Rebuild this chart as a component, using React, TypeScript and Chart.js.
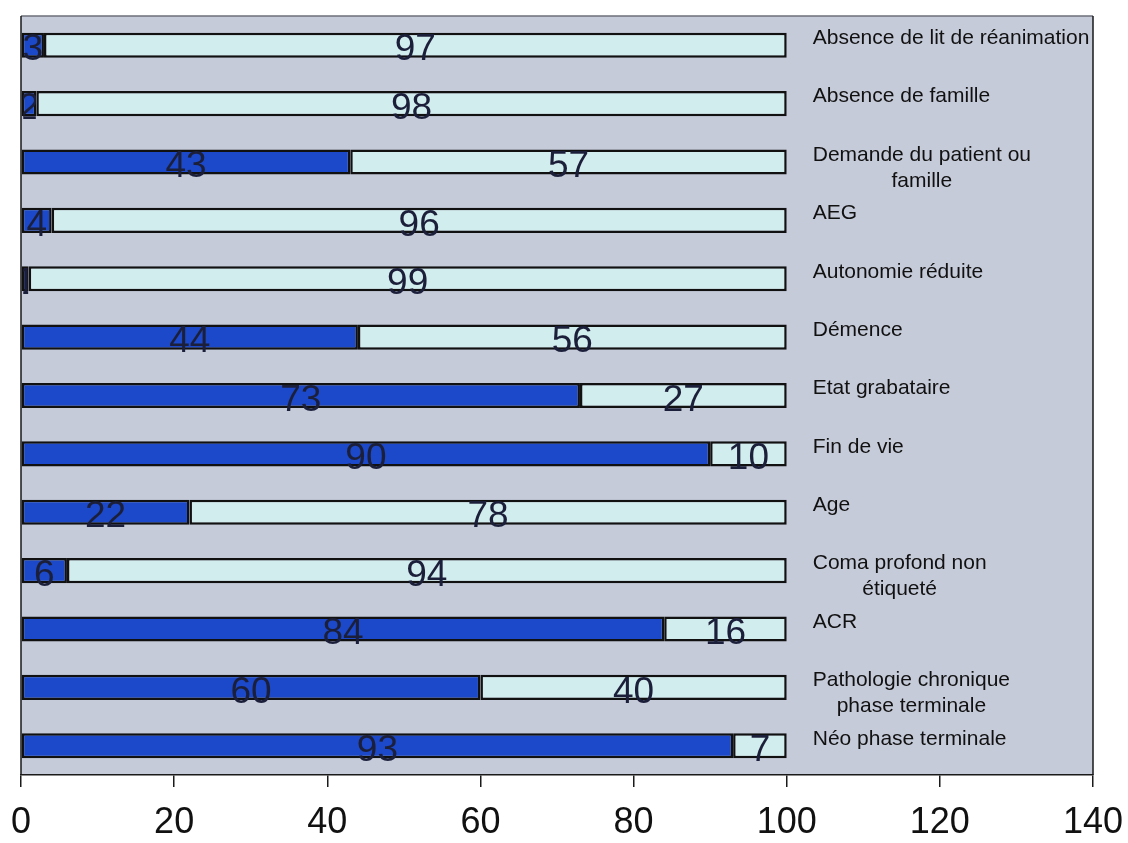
import React, { useEffect, useRef } from "react";
import { Chart, registerables } from "chart.js";

Chart.register(...registerables);

const categories: string[][] = [
  ["Absence de lit de réanimation"],
  ["Absence de famille"],
  ["Demande du patient ou", "famille"],
  ["AEG"],
  ["Autonomie réduite"],
  ["Démence"],
  ["Etat grabataire"],
  ["Fin de vie"],
  ["Age"],
  ["Coma profond non", "étiqueté"],
  ["ACR"],
  ["Pathologie chronique", "phase terminale"],
  ["Néo phase terminale"],
];
const seriesA: number[] = [3, 2, 43, 4, 1, 44, 73, 90, 22, 6, 84, 60, 93];
const seriesB: number[] = [97, 98, 57, 96, 99, 56, 27, 10, 78, 94, 16, 40, 7];
const xTicks: number[] = [0, 20, 40, 60, 80, 100, 120, 140];

const FONT = "'Liberation Sans', Arial, sans-serif";

const bgPlugin = {
  id: "bgPlugin",
  beforeDraw(chart: any) {
    const { ctx, chartArea } = chart;
    ctx.save();
    ctx.fillStyle = "#c6cbda";
    ctx.fillRect(chartArea.left, chartArea.top, chartArea.right - chartArea.left, chartArea.bottom - chartArea.top);
    ctx.restore();
  },
  afterDraw(chart: any) {
    const { ctx, chartArea } = chart;
    ctx.save();
    ctx.lineWidth = 1.5;
    ctx.strokeStyle = "#6d6f78";
    ctx.beginPath();
    ctx.moveTo(chartArea.left, chartArea.top);
    ctx.lineTo(chartArea.right, chartArea.top);
    ctx.stroke();
    ctx.strokeStyle = "#1a1a1a";
    ctx.beginPath();
    ctx.moveTo(chartArea.left, chartArea.top);
    ctx.lineTo(chartArea.left, chartArea.bottom);
    ctx.moveTo(chartArea.right, chartArea.top);
    ctx.lineTo(chartArea.right, chartArea.bottom);
    ctx.stroke();
    ctx.restore();
  },
};

const labelsPlugin = {
  id: "labelsPlugin",
  afterDatasetsDraw(chart: any) {
    const { ctx } = chart;
    ctx.save();
    chart.data.datasets.forEach((ds: any, di: number) => {
      const meta = chart.getDatasetMeta(di);
      meta.data.forEach((el: any, i: number) => {
        const v = ds.data[i];
        const x0 = Math.min(el.base, el.x);
        const x1 = Math.max(el.base, el.x);
        const h = el.height;
        ctx.save();
        ctx.beginPath();
        ctx.rect(x0 + 1.5, el.y - h / 2 - 8, x1 - x0 - 2, h + 16);
        ctx.clip();
        ctx.fillStyle = "#1c1f3a";
        ctx.font = `37px ${FONT}`;
        ctx.textAlign = "center";
        ctx.textBaseline = "middle";
        ctx.fillText(String(v), (x0 + x1) / 2, el.y + 5);
        ctx.restore();
      });
    });
    const xs = chart.scales.x;
    const ys = chart.scales.y;
    const left = xs.getPixelForValue(100) + 26;
    ctx.font = `21px ${FONT}`;
    ctx.fillStyle = "#111111";
    ctx.textBaseline = "middle";
    categories.forEach((lines, i) => {
      const yc = ys.getPixelForValue(i) - 7;
      if (lines.length === 1) {
        ctx.textAlign = "left";
        ctx.fillText(lines[0], left, yc);
      } else {
        const w = Math.max(...lines.map((l) => ctx.measureText(l).width));
        ctx.textAlign = "center";
        lines.forEach((l, k) => ctx.fillText(l, left + w / 2, yc + k * 26));
      }
    });
    ctx.restore();
  },
};

export default function App() {
  const ref = useRef<HTMLCanvasElement | null>(null);
  useEffect(() => {
    document.body.style.margin = "0";
    document.body.style.background = "#ffffff";
    const chart = new Chart(ref.current as HTMLCanvasElement, {
      type: "bar",
      data: {
        labels: categories.map((c) => c.join(" ")),
        datasets: [
          {
            data: seriesA,
            backgroundColor: "#1b49c9",
            borderColor: "#111111",
            borderWidth: 2.5,
            borderSkipped: false,
            barPercentage: 0.43,
            categoryPercentage: 1,
          },
          {
            data: seriesB,
            backgroundColor: "#d2eded",
            borderColor: "#111111",
            borderWidth: 2.5,
            borderSkipped: false,
            barPercentage: 0.43,
            categoryPercentage: 1,
          },
        ],
      },
      options: {
        indexAxis: "y",
        animation: false,
        responsive: false,
        layout: { padding: { left: 21, right: 35, top: 16, bottom: 0 } },
        plugins: { legend: { display: false }, tooltip: { enabled: false } },
        scales: {
          x: {
            stacked: true,
            min: 0,
            max: 140,
            afterBuildTicks: (scale: any) => {
              scale.ticks = xTicks.map((v) => ({ value: v }));
            },
            afterFit: (scale: any) => {
              scale.height = 68;
              scale.paddingLeft = 0;
              scale.paddingRight = 0;
            },
            ticks: {
              font: { size: 36, family: FONT },
              color: "#111111",
              padding: 14,
              maxRotation: 0,
            },
            grid: {
              drawOnChartArea: false,
              drawTicks: true,
              tickLength: 12,
              color: "#1a1a1a",
              lineWidth: 1.5,
            },
            border: { color: "#1a1a1a", width: 1.5 },
          },
          y: {
            stacked: true,
            display: false,
          },
        },
      },
      plugins: [bgPlugin, labelsPlugin],
    } as any);
    return () => chart.destroy();
  }, []);
  return <canvas ref={ref} width={1128} height={843} style={{ display: "block" }} />;
}
